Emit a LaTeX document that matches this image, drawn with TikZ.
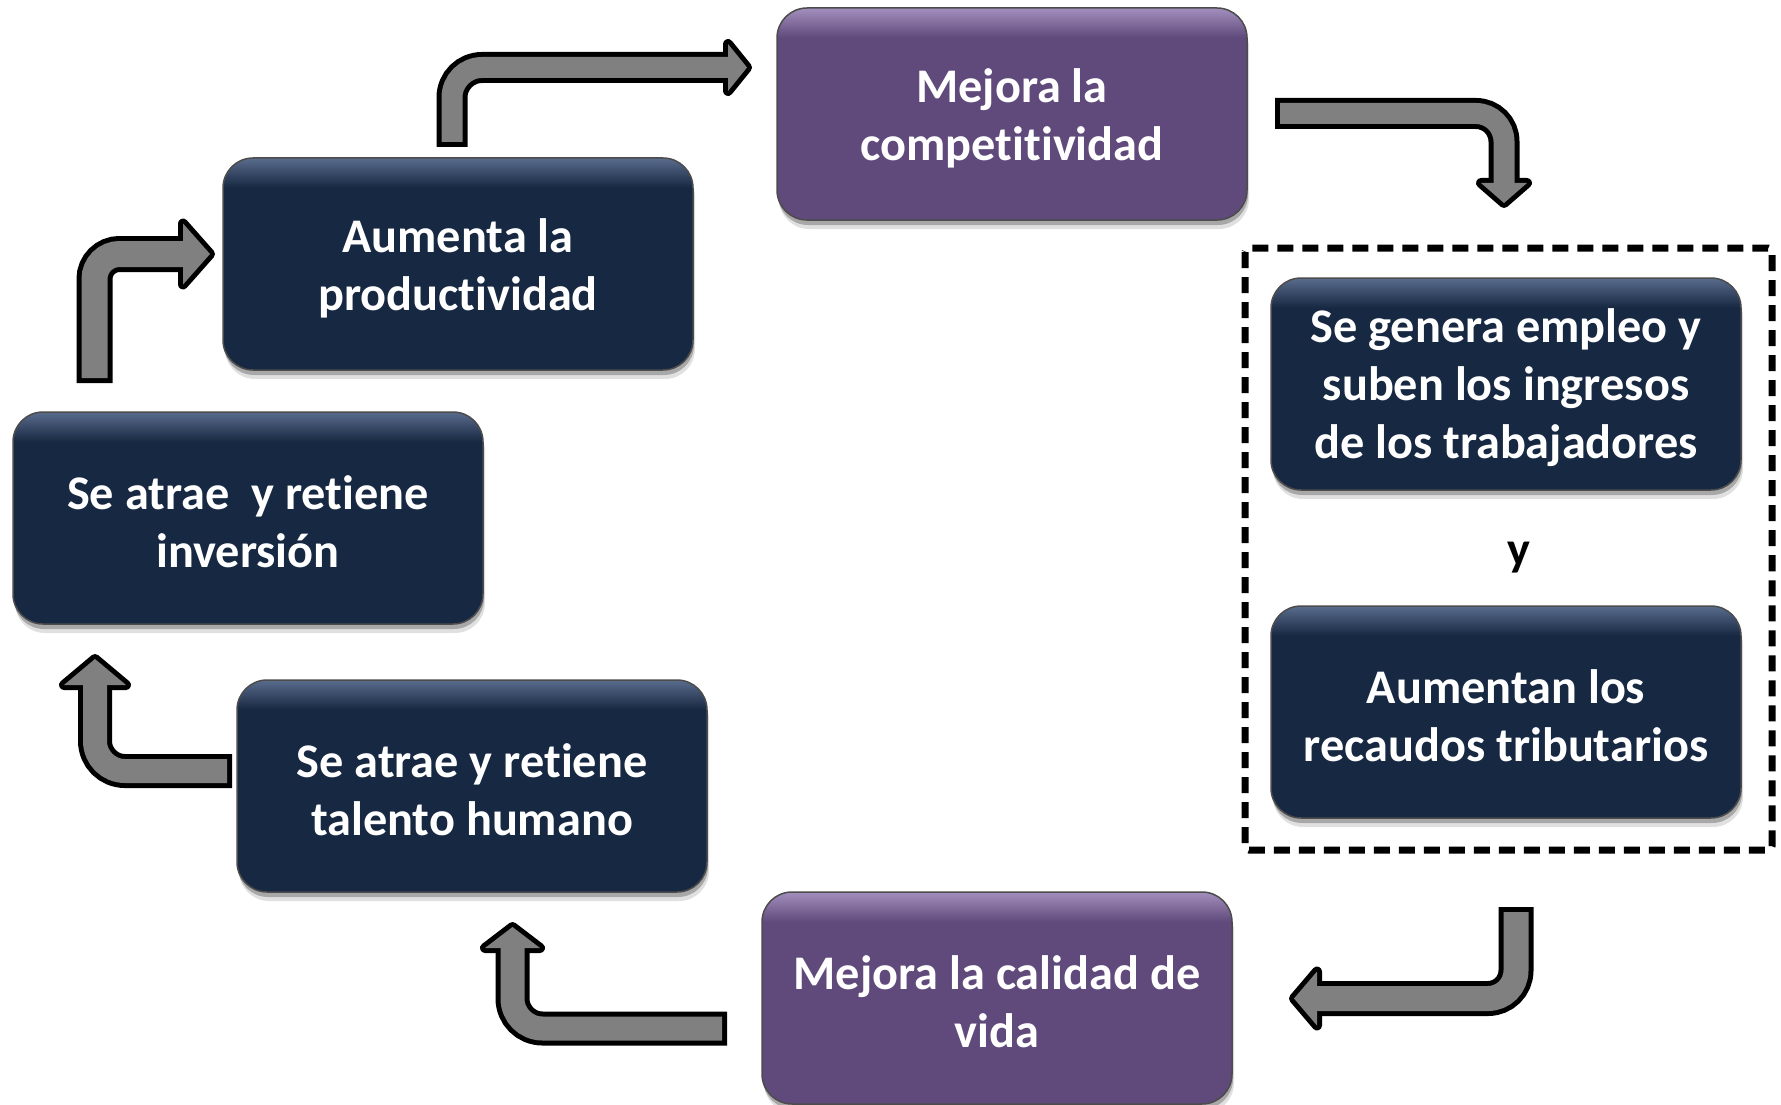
\documentclass[tikz,border=0pt]{standalone}
\usepackage{fontspec}
\setmainfont[Ligatures=NoCommon]{Carlito}
\usetikzlibrary{shadows}
\definecolor{navy}{HTML}{172842}
\definecolor{navylight}{HTML}{5A6C8C}
\definecolor{purp}{HTML}{604A7C}
\definecolor{purplight}{HTML}{A38FBD}
\definecolor{arrgray}{HTML}{808080}
\pgfdeclareverticalshading{navyshade}{100bp}{color(0bp)=(navy); color(25bp)=(navy); color(68bp)=(navy); color(75bp)=(navylight); color(100bp)=(navylight)}
\pgfdeclareverticalshading{purpshade}{100bp}{color(0bp)=(purp); color(25bp)=(purp); color(68bp)=(purp); color(75bp)=(purplight); color(100bp)=(purplight)}
% #1 extended start, #2 start, #3 corner, #4 end inside head, #5 head polygon, #6 shaft width, #7 corner radius
\newcommand{\blkarrow}[7]{%
  \pgfmathsetmacro\outw{#6+10}%
  \draw[line width=\outw pt, black, rounded corners=#7pt] #1 -- #3 -- #4;
  \filldraw[black, line width=10pt, line join=round] #5 -- cycle;
  \draw[line width=#6pt, arrgray, rounded corners=#7pt] #2 -- #3 -- #4;
  \fill[arrgray] #5 -- cycle;
}
\tikzset{
  boxfont/.style={font=\fontsize{48.3}{58}\selectfont\bfseries},
  boxtext/.style={boxfont, text=white, align=center, inner sep=0pt, yshift=-4pt},
  boxbase/.style={rounded corners=30pt, minimum width=470pt, minimum height=212pt,
    draw=black!70, line width=1.5pt, inner sep=0pt,
    drop shadow={shadow xshift=2pt, shadow yshift=-9pt, opacity=0.12, fill=black},
    drop shadow={shadow xshift=1pt, shadow yshift=-5pt, opacity=0.25, fill=black}},
  navybox/.style={boxbase, shading=navyshade},
  purpbox/.style={boxbase, shading=purpshade},
  groupbox/.style={draw=black, line width=7pt, dash pattern=on 16pt off 9pt, rounded corners=4pt}
}
\begin{document}
\begin{tikzpicture}[x=1pt, y=-1pt]
\useasboundingbox (0,0) rectangle (1781,1105);

% nodes
\node[purpbox, label={[boxtext]center:{Mejora la\\competitividad}}] (b1) at (1012,114) {};
\node[navybox, label={[boxtext]center:{Aumenta la\\productividad}}] (b2) at (458,264) {};
\node[navybox, label={[boxtext]center:{Se atrae\ \ y retiene\\inversión}}] (b3) at (248,518) {};
\node[navybox, label={[boxtext]center:{Se atrae y retiene\\talento humano}}] (b4) at (472,786) {};
\node[purpbox, label={[boxtext]center:{Mejora la calidad de\\vida}}] (b5) at (997,998) {};
\node[navybox, label={[boxtext]center:{Se genera empleo y\\suben los ingresos\\de los trabajadores}}] (b6) at (1506,384) {};
\node[navybox, label={[boxtext]center:{Aumentan los\\recaudos tributarios}}] (b7) at (1506,712) {};
\node[boxfont, text=black] (yand) at (1519,558) {y};

% dashed group
\draw[groupbox] (1245,248) rectangle (1772,850);

% block arrows
% b2 -> b1
\blkarrow{(452,147)}{(452,142)}{(452,67.5)}{(736,67.5)}{(728,44) -- (747,67.5) -- (728,91)}{21}{30}
% b1 -> group
\blkarrow{(1275,113.5)}{(1280,113.5)}{(1504,113.5)}{(1504,191)}{(1481,183) -- (1504,203) -- (1527,183)}{21}{28}
% group -> b5
\blkarrow{(1516,907)}{(1516,912)}{(1516,998.5)}{(1309,998.5)}{(1317,971.5) -- (1294,998.5) -- (1317,1025.5)}{25}{28}
% b5 -> b4
\blkarrow{(727,1028.5)}{(722,1028.5)}{(512.5,1028.5)}{(512.5,940)}{(485,948) -- (512.5,927) -- (540,948)}{24}{30}
% b4 -> b3
\blkarrow{(232,771)}{(227,771)}{(95,771)}{(95,677)}{(64,685) -- (95,659) -- (126,685)}{24}{30}
% b3 -> b2
\blkarrow{(94.5,383)}{(94.5,378)}{(94.5,254)}{(191,254)}{(183,223.5) -- (210,254) -- (183,284.5)}{26}{25}
\end{tikzpicture}
\end{document}
